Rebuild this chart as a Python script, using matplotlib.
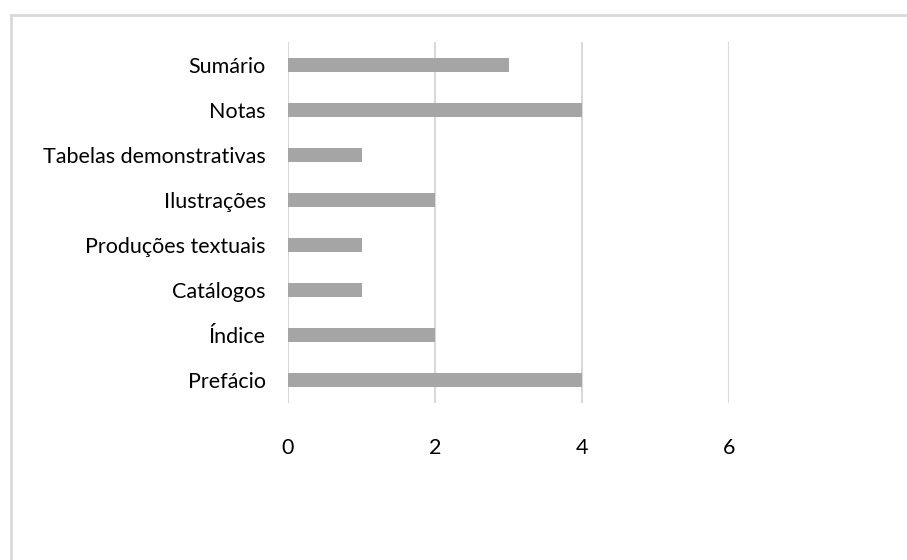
import matplotlib
matplotlib.use('Agg')
import matplotlib.pyplot as plt
from matplotlib.lines import Line2D

plt.rcParams['font.family'] = ['Lato', 'DejaVu Sans']

# dados
categorias = ['Prefácio', 'Índice', 'Catálogos', 'Produções textuais',
              'Ilustrações', 'Tabelas demonstrativas', 'Notas', 'Sumário']
valores = [4, 2, 1, 1, 2, 1, 4, 3]
ticks_x = [0, 2, 4, 6]

fig = plt.figure(figsize=(9.07, 5.6), dpi=100)
ax = fig.add_axes([288 / 907, 1 - 403 / 560, (729 - 288) / 907, (403 - 42) / 560])

ax.barh(range(len(categorias)), valores, height=0.31, color='#A5A5A5', zorder=3)
ax.set_xlim(0, 6)
ax.set_ylim(-0.5, len(categorias) - 0.5)
ax.set_yticks(range(len(categorias)))
ax.set_yticklabels(categorias, fontsize=15.5, color='#000000')
ax.set_xticks(ticks_x)
ax.set_xticklabels([str(t) for t in ticks_x], fontsize=15.5, color='#000000')
ax.tick_params(axis='both', length=0)
ax.tick_params(axis='y', pad=16)
ax.tick_params(axis='x', pad=25)
ax.grid(axis='x', color='#D9D9D9', linewidth=1.5, zorder=0)
for s in ax.spines.values():
    s.set_visible(False)

# borda do gráfico
fig.add_artist(Line2D([11 / 907, 1.01], [1 - 15 / 560, 1 - 15 / 560], color='#D9D9D9', lw=2))
fig.add_artist(Line2D([11 / 907, 11 / 907], [1 - 15 / 560, -0.01], color='#D9D9D9', lw=2))

fig.savefig('out.png', dpi=100)
